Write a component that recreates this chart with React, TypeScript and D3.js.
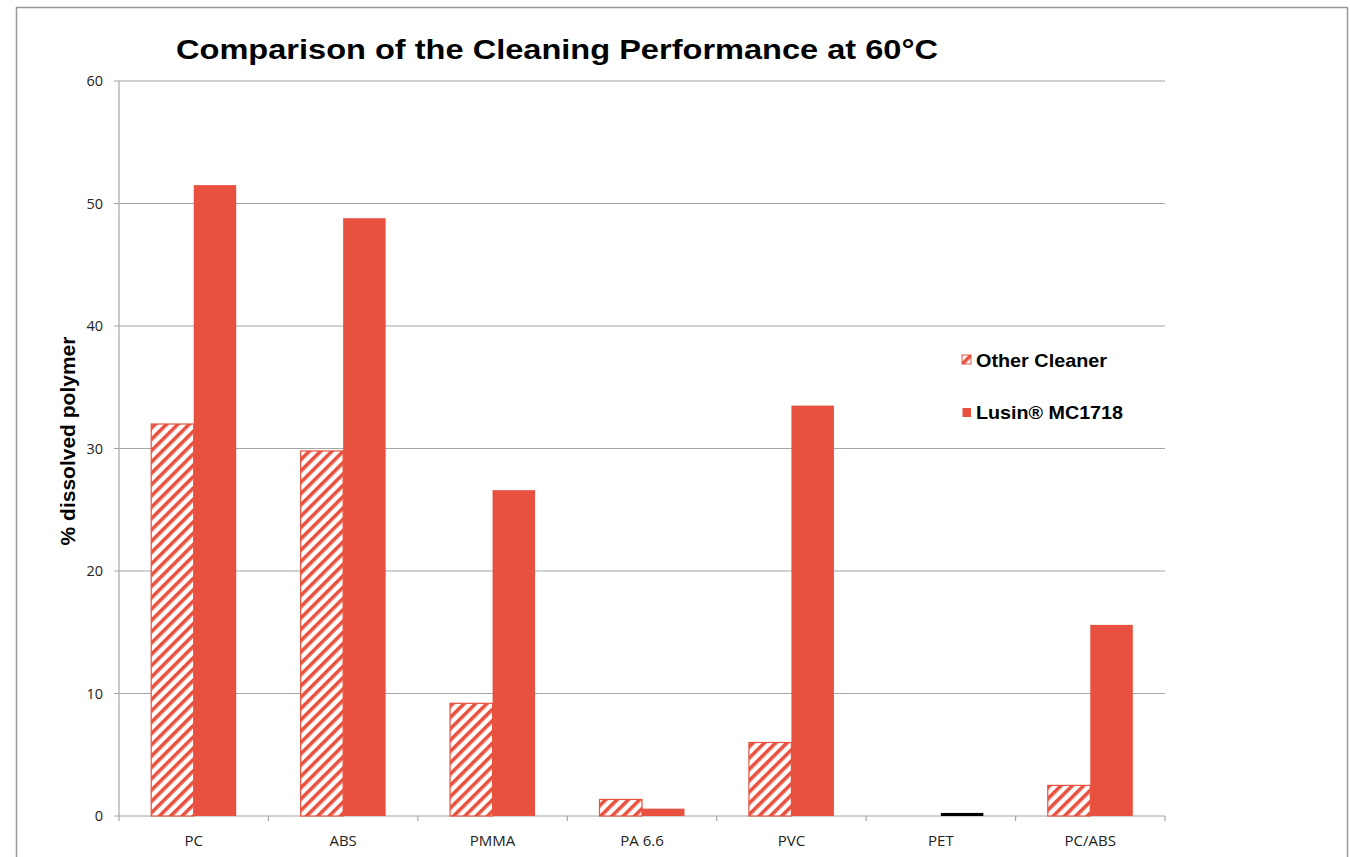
import * as d3 from 'd3'

const categories = ['PC', 'ABS', 'PMMA', 'PA 6.6', 'PVC', 'PET', 'PC/ABS']
const otherCleaner = [32.0, 29.8, 9.2, 1.35, 6.0, 0, 2.5]
const lusin = [51.5, 48.8, 26.6, 0.6, 33.5, 0.25, 15.6]
const yTicks = [0, 10, 20, 30, 40, 50, 60]
const seriesNames = ['Other Cleaner', 'Lusin® MC1718']

const RED = '#e8513f'
const GRID = '#a6a6a6'

export default function App() {
  const width = 1350
  const height = 857
  const left = 119
  const right = 1165
  const top = 81
  const bottom = 816

  const x = d3.scaleBand<string>().domain(categories).range([left, right])
  const y = d3.scaleLinear().domain([0, 60]).range([bottom, top])
  const barW = 42.5
  const bandOffset = (x.bandwidth() - barW * 2) / 2

  const font = '"Liberation Sans", Arial, sans-serif'
  const tickFont = '"Open Sans", "DejaVu Sans", sans-serif'

  return (
    <svg width={width} height={height} style={{ position: 'absolute', left: 0, top: 0, background: '#fff' }}>
      <defs>
        <pattern id="hatch" patternUnits="userSpaceOnUse" width="8" height="8" patternTransform="rotate(45)">
          <rect width="8" height="8" fill="#fff" />
          <rect x="0" y="0" width="3.6" height="8" fill={RED} />
        </pattern>
      </defs>
      <rect x={16.5} y={7.5} width={1331} height={900} fill="#fff" stroke="#9a9a9a" strokeWidth={1.5} />

      <text x={176} y={59} textLength={762} lengthAdjust="spacingAndGlyphs" fontFamily={font} fontWeight="bold" fontSize={28.5} fill="#000">
        Comparison of the Cleaning Performance at 60°C
      </text>

      {/* gridlines + y ticks */}
      {yTicks.map((t) => (
        <g key={t}>
          <line x1={left - 5} x2={right} y1={y(t)} y2={y(t)} stroke={GRID} strokeWidth={1.2} />
          <text x={103} y={y(t) + 5} textAnchor="end" fontFamily={tickFont} fontSize={14.5} fill="#222">
            {t}
          </text>
        </g>
      ))}
      <line x1={left} x2={left} y1={top} y2={bottom} stroke={GRID} strokeWidth={1.2} />

      {/* category ticks */}
      {categories.map((c, i) => (
        <line key={c} x1={left + (i + 1) * x.step()} x2={left + (i + 1) * x.step()} y1={bottom} y2={bottom + 5} stroke={GRID} strokeWidth={1.2} />
      ))}
      <line x1={left} x2={left} y1={bottom} y2={bottom + 5} stroke={GRID} strokeWidth={1.2} />

      {/* bars */}
      {categories.map((c, i) => {
        const x0 = (x(c) ?? 0) + bandOffset
        const o = otherCleaner[i]
        const l = lusin[i]
        return (
          <g key={c}>
            {o > 0 && (
              <rect x={x0} y={y(o)} width={barW} height={bottom - y(o)} fill="url(#hatch)" stroke={RED} strokeWidth={1.2} />
            )}
            {l > 0 && (
              <rect x={x0 + barW} y={y(l)} width={barW} height={bottom - y(l)} fill={c === 'PET' ? '#000' : RED} />
            )}
          </g>
        )
      })}

      {/* x labels */}
      {categories.map((c) => (
        <text key={c} x={(x(c) ?? 0) + x.bandwidth() / 2} y={846} textAnchor="middle" fontFamily={tickFont} fontSize={15} fill="#222">
          {c}
        </text>
      ))}

      {/* y title */}
      <text transform="translate(75,441) rotate(-90)" textAnchor="middle" fontFamily={font} fontWeight="bold" fontSize={21} fill="#000">
        % dissolved polymer
      </text>

      {/* legend */}
      <rect x={962} y={355} width={9} height={9} fill="url(#hatch)" stroke={RED} strokeWidth={1} />
      <text x={976} y={367} textLength={131} lengthAdjust="spacingAndGlyphs" fontFamily={font} fontWeight="bold" fontSize={19} fill="#000">
        {seriesNames[0]}
      </text>
      <rect x={962.5} y={408} width={8.5} height={9} fill={RED} />
      <text x={976} y={419} textLength={147} lengthAdjust="spacingAndGlyphs" fontFamily={font} fontWeight="bold" fontSize={19} fill="#000">
        {seriesNames[1]}
      </text>
    </svg>
  )
}
